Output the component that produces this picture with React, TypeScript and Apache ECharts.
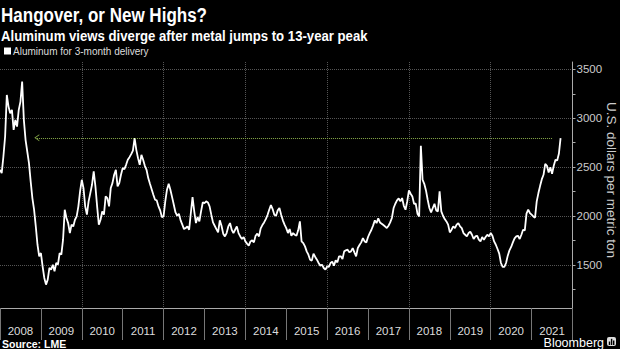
import React, { useEffect, useRef } from "react";
import * as echarts from "echarts";

const TITLE = "Hangover, or New Highs?";
const SUBTITLE = "Aluminum views diverge after metal jumps to 13-year peak";
const SERIES_NAME = "Aluminum for 3-month delivery";
const Y_NAME = "U.S. dollars per metric ton";
const SOURCE = "Source: LME";

const yearLabels = ["2008", "2009", "2010", "2011", "2012", "2013", "2014", "2015", "2016", "2017", "2018", "2019", "2020", "2021"];
const yLabelValues = [1500, 2000, 2500, 3000, 3500];
const yTickValues = [1250, 1500, 1750, 2000, 2250, 2500, 2750, 3000, 3250, 3500];

// semimonthly readings (USD per metric ton)
const y2008 = [2473, 2439, 2609, 2813, 3238, 3119, 3051, 3085, 2881, 2983, 2915, 3085, 3170, 3374, 2983, 2779, 2660, 2541, 2354, 2184, 2065, 1894, 1707, 1588];
const y2009 = [1622, 1486, 1367, 1299, 1350, 1469, 1452, 1503, 1435, 1520, 1503, 1622, 1605, 1758, 2065, 1980, 1928, 1826, 1912, 1894, 1962, 1996, 2099, 2252];
const y2010 = [2371, 2286, 2099, 2014, 2150, 2235, 2320, 2456, 2303, 2099, 1912, 1962, 2048, 2014, 2201, 2184, 2099, 2286, 2337, 2422, 2473, 2303, 2337, 2422];
const y2011 = [2490, 2480, 2524, 2575, 2602, 2633, 2670, 2796, 2677, 2592, 2524, 2626, 2575, 2514, 2473, 2388, 2330, 2275, 2218, 2167, 2160, 2099, 2058, 1990];
const y2012 = [1996, 2150, 2269, 2330, 2269, 2194, 2116, 2037, 2003, 2024, 1956, 1912, 1867, 1878, 1894, 1860, 2031, 2194, 2048, 1928, 1990, 1945, 2048, 2139];
const y2013 = [2133, 2150, 2139, 2099, 2014, 1935, 1901, 1867, 1833, 1956, 1901, 1820, 1792, 1826, 1894, 1928, 1860, 1826, 1860, 1894, 1826, 1792, 1765, 1786];
const y2014 = [1741, 1718, 1697, 1741, 1752, 1731, 1799, 1820, 1792, 1874, 1908, 1935, 1969, 2010, 2065, 2112, 2071, 2014, 2003, 2058, 2082, 2014, 1956, 1912];
const y2015 = [1877, 1826, 1867, 1799, 1826, 1809, 1799, 1854, 1945, 1741, 1724, 1690, 1639, 1605, 1554, 1544, 1616, 1582, 1554, 1520, 1493, 1503, 1469, 1452];
const y2016 = [1486, 1480, 1520, 1534, 1493, 1548, 1527, 1588, 1588, 1561, 1639, 1650, 1656, 1629, 1639, 1673, 1629, 1588, 1673, 1704, 1731, 1775, 1741, 1731];
const y2017 = [1786, 1826, 1860, 1905, 1956, 1928, 1976, 1935, 1922, 1908, 1894, 1877, 1901, 1935, 1980, 2082, 2126, 2160, 2180, 2150, 2184, 2105, 2065, 2150];
const y2018 = [2262, 2228, 2201, 2126, 2126, 2024, 1996, 2718, 2371, 2330, 2262, 2167, 2082, 2037, 2082, 2126, 2058, 2048, 2252, 2048, 2003, 1969, 1945, 1912];
const y2019 = [1833, 1860, 1894, 1877, 1912, 1928, 1894, 1877, 1826, 1809, 1792, 1826, 1840, 1809, 1765, 1792, 1799, 1758, 1741, 1786, 1758, 1786, 1809, 1792];
const y2020 = [1826, 1799, 1741, 1707, 1663, 1616, 1520, 1480, 1480, 1520, 1595, 1650, 1684, 1731, 1772, 1792, 1799, 1765, 1809, 1860, 1854, 2024, 2065, 2031];
const y2021 = [2014, 1996, 1983, 2150, 2235, 2309, 2377, 2422, 2534, 2514, 2445, 2500, 2432, 2514, 2575, 2568, 2636, 2796];

const yearly = [y2008, y2009, y2010, y2011, y2012, y2013, y2014, y2015, y2016, y2017, y2018, y2019, y2020, y2021];

// annotation: 2011 peak level arrow
const arrowLevel = 2800;
const arrowFrom = 2021.5;
const arrowTo = 2008.9;

const SANS = "'Liberation Sans', Arial, sans-serif";

export default function App() {
  const ref = useRef<HTMLDivElement>(null);

  useEffect(() => {
    document.body.style.margin = "0";
    document.body.style.background = "#000";
    if (!ref.current) return;
    const chart = echarts.init(ref.current, null, { renderer: "svg" });

    const data: number[][] = [];
    yearly.forEach((arr, yi) => {
      const yr = 2008 + yi;
      arr.forEach((v, i) => data.push([yr + i / 24, v]));
    });

    const option: any = {
      animation: false,
      backgroundColor: "#000",
      textStyle: { fontFamily: SANS },
      legend: {
        data: [SERIES_NAME],
        left: 4,
        top: 46,
        padding: 0,
        icon: "rect",
        itemWidth: 7,
        itemHeight: 7,
        textStyle: { color: "#ddd", fontSize: 10, fontFamily: SANS, padding: [0, 0, 0, -3] },
      },
      grid: { left: 0, right: 47.5, top: 62, bottom: 41, containLabel: false, outerBoundsMode: "none" },
      xAxis: [
        {
          type: "value",
          min: 2008,
          max: 2022,
          interval: 2,
          axisLine: { show: true, lineStyle: { color: "#aaa", width: 1 } },
          axisTick: { show: false },
          axisLabel: { show: false },
          splitLine: { show: true, showMinLine: false, showMaxLine: false, lineStyle: { color: "#555", type: "dotted", width: 1 } },
        },
        {
          type: "category",
          data: yearLabels,
          position: "bottom",
          boundaryGap: true,
          axisLine: { show: false },
          axisTick: { show: true, length: 32, lineStyle: { color: "#777", width: 1 } },
          axisLabel: { color: "#ddd", fontSize: 11.5, margin: 16, lineHeight: 13, fontFamily: SANS },
          splitLine: { show: false },
        },
      ],
      yAxis: [
        {
          type: "value",
          position: "right",
          min: 1060,
          max: 3575,
          name: Y_NAME,
          nameLocation: "middle",
          nameRotate: -90,
          nameGap: 31,
          nameMoveOverlap: false,
          nameTextStyle: { color: "#ccc", fontSize: 13.5, fontFamily: SANS, lineHeight: 15, padding: [0, 10, 0, 0] },
          axisLine: { show: true, lineStyle: { color: "#aaa", width: 1 } },
          axisTick: { show: true, length: 3, customValues: yTickValues, lineStyle: { color: "#aaa" } },
          axisLabel: {
            color: "#ccc",
            fontSize: 11.5,
            margin: 4,
            customValues: yLabelValues,
            fontFamily: SANS,
            formatter: (v: number) => String(v),
          },
          splitLine: { show: false },
        },
        {
          type: "value",
          position: "right",
          min: 1060,
          max: 3575,
          axisLine: { show: false },
          axisTick: { show: false, customValues: yLabelValues },
          axisLabel: { show: false, customValues: yLabelValues },
          splitLine: { show: true, lineStyle: { color: "#555", type: "dotted", width: 1 } },
        },
      ],
      series: [
        {
          name: SERIES_NAME,
          type: "line",
          xAxisIndex: 0,
          yAxisIndex: 0,
          data,
          showSymbol: false,
          symbol: "none",
          color: "#fff",
          lineStyle: { color: "#fff", width: 1.8 },
          markLine: {
            silent: true,
            symbol: ["none", "path://M5,0 L10,10 L8.6,10 L5,2.8 L1.4,10 L0,10 Z"],
            symbolSize: [7, 5],
            label: { show: false },
            lineStyle: { color: "#86a848", type: "dotted", width: 1 },
            data: [[{ coord: [arrowFrom, arrowLevel] }, { coord: [arrowTo, arrowLevel] }]],
          },
        },
      ],
      graphic: [
        {
          type: "text",
          x: 1,
          y: 4,
          scaleX: 0.83,
          style: { text: TITLE, fill: "#fff", font: `bold 20.5px ${SANS}`, verticalAlign: "top", textVerticalAlign: "top" },
        },
        {
          type: "text",
          x: 1,
          y: 28,
          scaleX: 0.85,
          style: { text: SUBTITLE, fill: "#fff", font: `bold 15.5px ${SANS}`, verticalAlign: "top", textVerticalAlign: "top" },
        },
        {
          type: "text",
          x: 2,
          y: 338,
          style: { text: SOURCE, fill: "#fff", font: `bold 10.5px ${SANS}`, lineHeight: 11, verticalAlign: "top", textVerticalAlign: "top" },
        },
        {
          type: "text",
          x: 604,
          y: 336,
          style: { text: "Bloomberg", fill: "#fff", font: `12.5px ${SANS}`, lineHeight: 13, align: "right", textAlign: "right", verticalAlign: "top", textVerticalAlign: "top" },
        },
        {
          type: "group",
          x: 607,
          y: 337,
          children: [
            { type: "rect", shape: { x: 0, y: 0, width: 9, height: 9, r: 2 }, style: { fill: "#ddd" } },
            { type: "rect", shape: { x: 1.8, y: 4.5, width: 1.4, height: 3.5 }, style: { fill: "#000" } },
            { type: "rect", shape: { x: 3.9, y: 1.8, width: 1.4, height: 6.2 }, style: { fill: "#000" } },
            { type: "rect", shape: { x: 6, y: 3.5, width: 1.4, height: 4.5 }, style: { fill: "#000" } },
          ],
        },
      ],
    };

    chart.setOption(option);
    return () => chart.dispose();
  }, []);

  return (
    <div
      ref={ref}
      style={{ position: "absolute", left: 0, top: 0, width: 620, height: 349, background: "#000" }}
    />
  );
}
